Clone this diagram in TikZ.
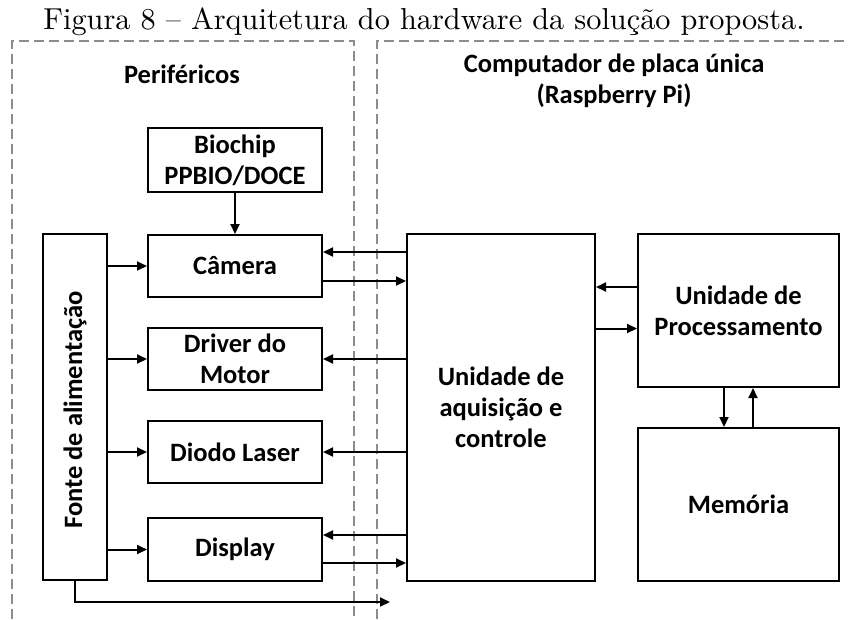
\documentclass[tikz,border=0pt]{standalone}
\usepackage{fontspec}
\newfontfamily\calfont{Carlito}
% caption face: the 10pt design of Latin Modern, scaled up
\newfontfamily\capfont{lmroman10-regular}[Extension=.otf, Ligatures=TeX]
\usetikzlibrary{arrows.meta,calc}
\begin{document}
\begin{tikzpicture}[x=1pt,y=-1pt,
  lbl/.style={font=\calfont\bfseries\fontsize{26.5}{31}\selectfont, align=center, inner sep=0pt},
  blk/.style={lbl, draw=black, line width=2pt, fill=white},
  smallblk/.style={blk, minimum width=174pt, minimum height=62pt},
  arr/.style={line width=2pt, -{Triangle[length=10pt,width=9pt]}},
  frame/.style={draw=black!45, line width=1.4pt, dash pattern=on 10pt off 5pt}
]
\useasboundingbox (0,0) rectangle (848,619);

% caption
\node[inner sep=0pt, anchor=base, font=\capfont\fontsize{30.3}{34}\selectfont] (title) at (424,29)
  {Figura 8 – Arquitetura do hardware da solução proposta.};

% dashed frames of the two groups
\draw[frame] (12,619) -- (12,41) -- (354,41) -- (354,619);
\draw[frame] (377,619) -- (377,41) -- (848,41);

\node[lbl, anchor=base] (perif) at (182,83) {Periféricos};
\node[lbl] (sbc) at (614,81) {Computador de placa única\\(Raspberry Pi)};

% peripherals
\node[smallblk, minimum height=64pt] (bio) at (235,160) {Biochip\\PPBIO/DOCE};
\node[smallblk] (cam) at (235,266) {Câmera};
\node[smallblk] (drv) at (235,359) {Driver do\\Motor};
\node[smallblk] (las) at (235,452) {Diodo Laser};
\node[smallblk, minimum height=63pt] (dis) at (235,549.5) {Display};
\node[blk, minimum width=64pt, minimum height=346pt] (fonte) at (75,407) {};
\node[lbl, rotate=90] (fontetxt) at (75,410) {Fonte de alimentação};

% single-board computer
\node[blk, minimum width=188pt, minimum height=347pt] (ua) at (501,407.5)
  {Unidade de\\aquisição e\\controle};
\node[blk, minimum width=201pt, minimum height=153pt] (up) at (738.5,310.5)
  {Unidade de\\Processamento};
\node[blk, minimum width=201pt, minimum height=153pt] (mem) at (738.5,504.5) {Memória};

% attachment points of the paired links
\coordinate (camin)  at ([yshift=14pt]cam.east);
\coordinate (camout) at ([yshift=-15pt]cam.east);
\coordinate (disin)  at ([yshift=14.5pt]dis.east);
\coordinate (disout) at ([yshift=-13.5pt]dis.east);
\coordinate (upout)  at ([yshift=23.5pt]up.west);
\coordinate (upin)   at ([yshift=-18pt]up.west);
\coordinate (memin)  at ([xshift=-14.5pt]mem.north);
\coordinate (memout) at ([xshift=14.5pt]mem.north);
\coordinate (pwrend) at (390,602);

% links
\draw[arr] (bio) -- (cam);
\foreach \n in {cam,drv,las,dis}
  \draw[arr] (fonte.east |- \n) -- (\n.west);
\draw[arr] (camin -| ua.west) -- (camin);
\draw[arr] (camout) -- (camout -| ua.west);
\draw[arr] (ua.west |- drv) -- (drv.east);
\draw[arr] (ua.west |- las) -- (las.east);
\draw[arr] (disin -| ua.west) -- (disin);
\draw[arr] (disout) -- (disout -| ua.west);
\draw[arr] (upout) -- (upout -| ua.east);
\draw[arr] (upin -| ua.east) -- (upin);
\draw[arr] (memin |- up.south) -- (memin);
\draw[arr] (memout) -- (memout |- up.south);
\draw[arr] (fonte.south) |- (pwrend);
\end{tikzpicture}
\end{document}
